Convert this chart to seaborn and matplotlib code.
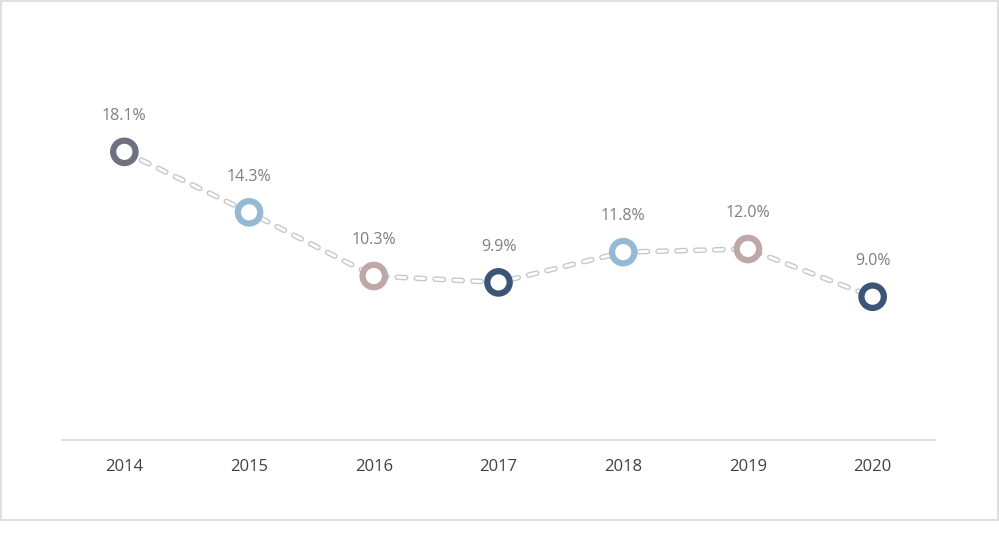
import numpy as np
import pandas as pd
import matplotlib
matplotlib.use("Agg")
import matplotlib.pyplot as plt
import seaborn as sns
from matplotlib.patches import Rectangle

# DATA
years = ["2014", "2015", "2016", "2017", "2018", "2019", "2020"]
rates = [18.1, 14.3, 10.3, 9.9, 11.8, 12.0, 9.0]
labels = ["18.1%", "14.3%", "10.3%", "9.9%", "11.8%", "12.0%", "9.0%"]
ring_colors = ["#6e7280", "#94b9d4", "#bfa7a8", "#3b5578",
               "#94b9d4", "#bfa7a8", "#3b5578"]

sns.set_theme(style="white")
plt.rcParams['font.family'] = ['Open Sans', 'DejaVu Sans']

df = pd.DataFrame({"pos": np.arange(len(years)), "rate": rates})

fig = plt.figure(figsize=(9.99, 5.34), dpi=100)
ax = fig.add_axes([62 / 999, 1 - 440 / 534, 873 / 999, 398 / 534])

# double dashed connector: grey dash with white core
sns.lineplot(data=df, x="pos", y="rate", ax=ax, color="#c8c8c8",
             linewidth=4, dashes=False, zorder=1)
ax.lines[-1].set_linestyle((0, (1.5, 1.9)))
ax.lines[-1].set_dash_capstyle("round")
sns.lineplot(data=df, x="pos", y="rate", ax=ax, color="white",
             linewidth=2, dashes=False, zorder=2)
ax.lines[-1].set_linestyle((0, (3.0, 3.8)))
ax.lines[-1].set_dash_capstyle("round")

# ring markers
ax.scatter(df["pos"], df["rate"], s=260, facecolors="white",
           edgecolors=ring_colors, linewidths=4.5, zorder=3)

# value labels
for p, v, t in zip(df["pos"], df["rate"], labels):
    ax.annotate(t, (p, v), xytext=(0, 20), textcoords="offset points",
                ha="center", va="bottom", fontsize=11.5, color="#7f7f7f")

ax.set_xlim(-0.5, len(years) - 0.5)
ax.set_ylim(0, 25)
ax.set_xticks(df["pos"])
ax.set_xticklabels(years, fontsize=12, color="#404040")
ax.set_yticks([])
ax.tick_params(axis="x", length=0, pad=14)
ax.set_xlabel("")
ax.set_ylabel("")
for side in ["top", "right", "left"]:
    ax.spines[side].set_visible(False)
ax.spines["bottom"].set_color("#d9d9d9")
ax.spines["bottom"].set_linewidth(1.2)

# chart frame
fig.patches.append(Rectangle((0.5 / 999, 1 - 519.5 / 534), 997 / 999, 518.5 / 534,
                             transform=fig.transFigure, fill=False,
                             edgecolor="#d9d9d9", linewidth=1.2))

fig.savefig("out.png", dpi=100, facecolor="white")
